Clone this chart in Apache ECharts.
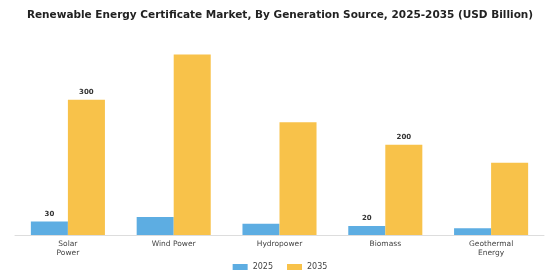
<!DOCTYPE html>
<html>
<head>
<meta charset="utf-8">
<script src="https://cdn.jsdelivr.net/npm/echarts@6/dist/echarts.min.js"></script>
<style>
  html, body { margin: 0; padding: 0; background: #fff; }
  #chart { width: 560px; height: 280px; }
</style>
</head>
<body>
<div id="chart"></div>
<script>
// values
const categories = ['Solar\nPower', 'Wind Power', 'Hydropower', 'Biomass', 'Geothermal\nEnergy'];
const values2025 = [30, 40, 25, 20, 15];
const values2035 = [300, 400, 250, 200, 160];
const labelled = ['Solar\nPower', 'Biomass'];

const chart = echarts.init(document.getElementById('chart'));

function labelFor(params) {
  return labelled.indexOf(params.name) >= 0 ? String(params.value) : '';
}

const option = {
  animation: false,
  backgroundColor: '#fff',
  title: {
    text: 'Renewable Energy Certificate Market, By Generation Source, 2025-2035 (USD Billion)',
    left: 'center',
    top: 5,
    textStyle: {
      fontFamily: 'DejaVu Sans',
      fontSize: 10.5,
      fontWeight: 'bold',
      color: '#222'
    }
  },
  legend: {
    data: ['2025', '2035'],
    bottom: 4,
    left: 'center',
    itemWidth: 15,
    itemHeight: 6,
    itemGap: 14,
    icon: 'rect',
    textStyle: { fontFamily: 'DejaVu Sans', fontSize: 8, color: '#444' }
  },
  grid: {
    left: 15,
    right: 16,
    top: 32,
    bottom: 45
  },
  xAxis: {
    type: 'category',
    data: categories,
    axisLine: { lineStyle: { color: '#ddd' } },
    axisTick: { alignWithLabel: true, length: 3, lineStyle: { color: '#ccc' } },
    axisLabel: {
      fontFamily: 'DejaVu Sans',
      fontSize: 7.5,
      color: '#444',
      margin: 5,
      lineHeight: 9
    }
  },
  yAxis: {
    type: 'value',
    min: 0,
    max: 450,
    show: false,
    splitLine: { show: false }
  },
  series: [
    {
      name: '2025',
      type: 'bar',
      data: values2025,
      barGap: '0%',
      barCategoryGap: '30%',
      itemStyle: { color: '#5DADE2' },
      label: {
        show: true,
        position: 'top',
        distance: 4,
        formatter: labelFor,
        fontFamily: 'DejaVu Sans',
        fontSize: 7,
        fontWeight: 'bold',
        color: '#333'
      }
    },
    {
      name: '2035',
      type: 'bar',
      data: values2035,
      barGap: '0%',
      barCategoryGap: '30%',
      itemStyle: { color: '#F8C24A' },
      label: {
        show: true,
        position: 'top',
        distance: 4,
        formatter: labelFor,
        fontFamily: 'DejaVu Sans',
        fontSize: 7,
        fontWeight: 'bold',
        color: '#333'
      }
    }
  ]
};

chart.setOption(option);
</script>
</body>
</html>
